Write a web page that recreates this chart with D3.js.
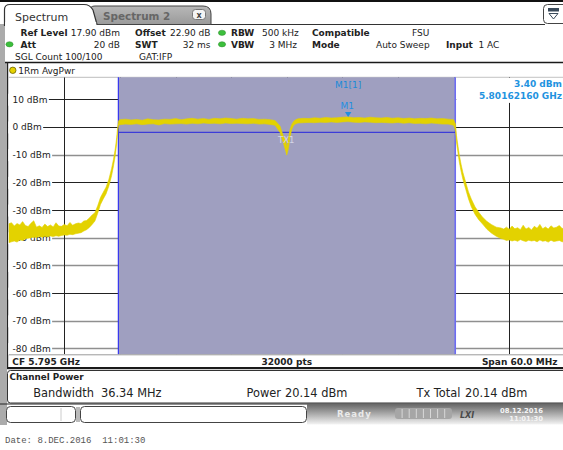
<!DOCTYPE html>
<html><head><meta charset="utf-8">
<script src="https://cdn.jsdelivr.net/npm/d3@7"></script>
<style>
html,body{margin:0;padding:0;background:#fff;}
svg{display:block;font-family:"DejaVu Sans",Verdana,sans-serif;}
</style></head><body>
<svg id="c" width="563" height="450"></svg>
<script>
// ---------------- data ----------------
const refLevel = 17.90;          // dBm, top of grid
const rangeDb = 100;             // dB shown
const centerGHz = 5.795;
const spanMHz = 60.0;
const sweepPoints = 32000;
const yTicks = [10, 0, -10, -20, -30, -40, -50, -60, -70, -80];
const yTickLabels = ["10 dBm", "0 dBm", "-10 dBm", "-20 dBm", "-30 dBm", "-40 dBm", "-50 dBm", "-60 dBm", "-70 dBm", "-80 dBm"];
const yGrayTicks = [-10, -40, -50, -70, -80];
const xGridMHz = [-24, -18, -12, -6, 0, 6, 12, 18, 24];
const channelBwMHz = 36.34;
const channelLineDbm = -2.0;
const markerFreqMHz = [6.6216];
const markerLevelDbm = [3.40];
const markerLabels = ["M1"];
const txLabel = "TX1";

// trace: frequency offset from centre (MHz), max and min of the noisy average trace (dBm)
const traceFreqMHz = [
  -30.0,-29.7,-29.4,-29.1,-28.8,-28.5,-28.2,-27.9,-27.6,-27.3,-27.0,-26.7,-26.4,-26.1,-25.8,-25.5,-25.2,-24.9,-24.6,-24.3,-24.0,-23.7,-23.4,-23.1,-22.8,-22.5,-22.2,-21.9,-21.6,-21.3,-21.0,
  -20.7,-20.4,-20.1,-19.8,-19.5,-19.2,-18.9,-18.7,-18.5,-18.35,-18.25,-18.15,
  -18.0,-17.4,-16.8,-16.2,-15.6,-15.0,-14.4,-13.8,-13.2,-12.6,-12.0,-11.4,-10.8,-10.2,-9.6,-9.0,-8.4,-7.8,-7.2,-6.6,-6.0,-5.4,-4.8,-4.2,-3.6,-3.0,-2.4,-1.8,
  -1.27,-0.73,-0.38,-0.12,-0.01,0.16,0.35,0.53,0.70,
  0.9,1.2,1.8,2.4,3.0,3.6,4.2,4.8,5.4,6.0,6.6,7.2,7.8,8.4,9.0,9.6,10.2,10.8,11.4,12.0,12.6,13.2,13.8,14.4,15.0,15.6,16.2,16.8,17.4,18.0,18.2,
  18.3,18.45,18.6,18.8,19.0,19.3,19.6,19.9,20.3,20.7,21.1,21.6,22.1,22.6,23.1,
  23.4,23.7,24.0,24.3,24.6,24.9,25.2,25.5,25.8,26.1,26.4,26.7,27.0,27.3,27.6,27.9,28.2,28.5,28.8,29.1,29.4,29.7,30.0
];
const traceMaxDbm = [
  -35.0,-34.6,-35.8,-34.9,-35.4,-34.2,-35.6,-36.0,-34.8,-33.9,-36.2,-35.7,-36.3,-35.1,-36.0,-35.4,-36.1,-34.6,-35.8,-35.9,-35.2,-35.7,-34.5,-35.5,-35.0,-34.7,-34.9,-34.0,-33.8,-32.9,-31.8,
  -31.0,-28.5,-25.5,-23.6,-21.8,-19.0,-15.0,-11.8,-7.8,-3.8,-0.2,2.2,
  2.6,2.8,2.5,2.7,2.4,2.9,2.6,2.5,2.8,2.7,3.0,2.6,2.9,3.1,2.8,3.0,2.7,3.1,2.9,3.2,3.0,2.8,3.1,2.9,3.0,2.7,2.8,2.6,
  2.3,0.3,-3.3,-4.8,-7.5,-4.5,-0.9,0.9,1.8,
  2.5,2.9,3.1,3.0,3.3,3.1,3.4,3.2,3.3,3.5,3.6,3.3,3.4,3.2,3.5,3.3,3.2,3.4,3.1,3.3,3.0,3.2,2.9,3.1,3.0,3.2,2.9,3.0,2.8,2.6,1.0,
  -3.0,-6.5,-10.0,-13.5,-16.5,-20.0,-23.5,-26.0,-28.8,-30.8,-32.5,-34.2,-35.3,-36.2,-36.5,
  -36.9,-36.2,-37.0,-35.8,-36.8,-36.4,-37.1,-35.5,-36.9,-36.3,-37.2,-35.9,-36.6,-35.2,-36.8,-36.1,-36.9,-35.7,-36.5,-36.2,-35.6,-36.7,-36.3
];
const traceMinDbm = [
  -41.8,-41.5,-41.2,-41.6,-40.8,-41.0,-40.4,-40.2,-40.0,-39.8,-39.9,-39.6,-39.8,-39.5,-39.7,-39.4,-39.6,-39.3,-39.5,-39.2,-39.0,-39.1,-38.8,-38.9,-38.6,-38.4,-38.2,-37.6,-37.1,-36.3,-35.2,
  -34.0,-31.2,-28.0,-26.0,-24.2,-21.4,-17.6,-14.2,-10.2,-6.0,-2.2,0.5,
  0.8,1.0,0.9,1.1,0.8,1.0,1.1,0.7,1.2,1.0,1.1,1.2,1.0,1.3,1.1,1.4,1.2,1.3,1.1,1.4,1.2,1.3,1.2,1.1,1.3,1.0,1.1,0.9,
  0.6,-2.0,-5.7,-8.7,-10.2,-8.0,-3.8,-0.9,0.3,
  1.0,1.4,1.5,1.6,1.5,1.7,1.6,1.8,1.6,1.8,1.9,1.7,1.6,1.8,1.7,1.5,1.6,1.5,1.4,1.6,1.3,1.5,1.2,1.3,1.1,1.4,1.2,1.0,1.0,0.6,-1.5,
  -5.5,-9.0,-12.5,-16.0,-19.0,-22.5,-26.0,-28.8,-31.5,-33.5,-35.0,-37.0,-38.4,-39.5,-40.3,
  -40.6,-41.0,-40.8,-41.2,-40.9,-41.3,-40.7,-41.1,-41.4,-40.9,-41.2,-41.0,-41.5,-40.8,-41.3,-41.1,-41.6,-40.9,-41.4,-41.2,-41.0,-41.5,-41.3
];

// header settings (label, value)
const headerRow1 = [["Ref Level", "17.90 dBm"], ["Offset", "22.90 dB"], ["RBW", "500 kHz"], ["Compatible", "FSU"]];
const headerRow2 = [["Att", "20 dB"], ["SWT", "32 ms"], ["VBW", "3 MHz"], ["Mode", "Auto Sweep"], ["Input", "1 AC"]];
const headerRow3 = ["SGL Count 100/100", "GAT:IFP"];
const traceTitle = "1Rm AvgPwr";
const markerReadout = ["M1[1]", "3.40 dBm", "5.80162160 GHz"];
const chPowerTitle = "Channel Power";
const chPowerItems = [["Bandwidth", "36.34 MHz"], ["Power", "20.14 dBm"], ["Tx Total", "20.14 dBm"]];
const dateText = "Date: 8.DEC.2016  11:01:30";
const statusDate = ["08.12.2016", "11:01:30"];

// ---------------- drawing ----------------
const svg = d3.select("#c");
const W = 563, H = 450;
const PL = 8.7, PR = 564.9, PT = 77.3, PB = 354.3;
const x = d3.scaleLinear().domain([-spanMHz / 2, spanMHz / 2]).range([PL, PR]);
const y = d3.scaleLinear().domain([refLevel - rangeDb, refLevel]).range([PB, PT]);

const defs = svg.append("defs");
const g1 = defs.append("linearGradient").attr("id", "tab2").attr("x1", 0).attr("y1", 0).attr("x2", 0).attr("y2", 1);
g1.append("stop").attr("offset", 0).attr("stop-color", "#b8b8b8");
g1.append("stop").attr("offset", 1).attr("stop-color", "#9a9a9a");
const g2 = defs.append("linearGradient").attr("id", "status").attr("x1", 0).attr("y1", 0).attr("x2", 0).attr("y2", 1);
g2.append("stop").attr("offset", 0).attr("stop-color", "#6a6a6a");
g2.append("stop").attr("offset", 0.45).attr("stop-color", "#a8a8a8");
g2.append("stop").attr("offset", 1).attr("stop-color", "#f4f4f4");
defs.append("clipPath").attr("id", "plotclip").append("rect")
  .attr("x", PL).attr("y", PT).attr("width", PR - PL).attr("height", PB - PT);

svg.append("rect").attr("width", W).attr("height", H).attr("fill", "#fff");

// left gray strip
svg.append("rect").attr("x", 0).attr("y", 24).attr("width", 5).attr("height", 401).attr("fill", "#ababab");
svg.append("rect").attr("x", 0).attr("y", 62).attr("width", 7).attr("height", 363).attr("fill", "#ababab");

// top line
svg.append("rect").attr("x", 0).attr("y", 0).attr("width", W).attr("height", 2).attr("fill", "#111");

// tabs
svg.append("line").attr("x1", 95).attr("x2", 545).attr("y1", 24.5).attr("y2", 24.5).attr("stroke", "#333").attr("stroke-width", 1.2);
svg.append("path").attr("d", "M90,24.5 L90,10 Q90,6 95,6 L203,6 Q211,6 211,14 L211,24.5 Z")
  .attr("fill", "url(#tab2)").attr("stroke", "#444").attr("stroke-width", 1);
svg.append("path").attr("d", "M4.5,26 L4.5,9.5 Q4.5,4.5 10,4.5 L84,4.5 Q90,4.5 93,10 L97,24.5")
  .attr("fill", "#fff").attr("stroke", "#333").attr("stroke-width", 1.2);
svg.append("rect").attr("x", 5.2).attr("y", 22).attr("width", 91).attr("height", 4).attr("fill", "#fff");
svg.append("text").attr("x", 15).attr("y", 20.5).attr("font-size", 11).attr("fill", "#333").text("Spectrum");
svg.append("text").attr("x", 103).attr("y", 20).attr("font-size", 10.4).attr("font-weight", "bold").attr("fill", "#666").text("Spectrum 2");
svg.append("rect").attr("x", 192.5).attr("y", 9.5).attr("width", 13).attr("height", 10).attr("rx", 3)
  .attr("fill", "#f4f4f4").attr("stroke", "#777");
svg.append("text").attr("x", 199).attr("y", 17.5).attr("text-anchor", "middle").attr("font-size", 8).attr("font-weight", "bold").attr("fill", "#444").text("x");
// top-right icon
svg.append("rect").attr("x", 543.5).attr("y", 4.5).attr("width", 24).attr("height", 19).attr("rx", 4)
  .attr("fill", "#fff").attr("stroke", "#444");
svg.append("rect").attr("x", 548).attr("y", 8).attr("width", 11).attr("height", 3.5).attr("fill", "#3a4a5a");
svg.append("path").attr("d", "M549,13.5 L558,13.5 L553.5,19 Z").attr("fill", "none").attr("stroke", "#3a4a5a").attr("stroke-width", 1);

// header text
const hdr = svg.append("g").attr("fill", "#222");
function hdrItem(lx, label, vx, anchor, value, base) {
  hdr.append("text").attr("x", lx).attr("y", base).attr("font-size", 9).attr("font-weight", "bold").text(label);
  hdr.append("text").attr("x", vx).attr("y", base).attr("font-size", 9).attr("text-anchor", anchor).text(value);
}
const r1 = 36.3, r2 = 47.8;
hdrItem(20.5, headerRow1[0][0], 120, "end", headerRow1[0][1], r1);
hdrItem(135, headerRow1[1][0], 210.5, "end", headerRow1[1][1], r1);
hdrItem(231, headerRow1[2][0], 262, "start", headerRow1[2][1], r1);
hdrItem(312, headerRow1[3][0], 412, "start", headerRow1[3][1], r1);
hdrItem(20.5, headerRow2[0][0], 120, "end", headerRow2[0][1], r2);
hdrItem(135, headerRow2[1][0], 210.5, "end", headerRow2[1][1], r2);
hdrItem(231, headerRow2[2][0], 297, "end", headerRow2[2][1], r2);
hdrItem(312, headerRow2[3][0], 376, "start", headerRow2[3][1], r2);
hdrItem(446, headerRow2[4][0], 478.5, "start", headerRow2[4][1], r2);
hdr.append("text").attr("x", 15).attr("y", 59.5).attr("font-size", 9).text(headerRow3[0]);
hdr.append("text").attr("x", 139).attr("y", 59.5).attr("font-size", 9).text(headerRow3[1]);
// green status dots
[[222, 32.8], [222, 44.3], [9.5, 44.3]].forEach(p => {
  svg.append("ellipse").attr("cx", p[0]).attr("cy", p[1]).attr("rx", 3.6).attr("ry", 2.6).attr("fill", "#3cbf3c").attr("stroke", "#2a8a2a").attr("stroke-width", 0.5);
});

// header / diagram separator
svg.append("line").attr("x1", 5).attr("x2", W).attr("y1", 62.5).attr("y2", 62.5).attr("stroke", "#1a1a1a").attr("stroke-width", 1.5);
// frame left
svg.append("line").attr("x1", 7.6).attr("x2", 7.6).attr("y1", 62).attr("y2", 369).attr("stroke", "#222").attr("stroke-width", 1.2);

// trace title row
svg.append("circle").attr("cx", 12.8).attr("cy", 70.3).attr("r", 3.2).attr("fill", "#e6d200").attr("stroke", "#6b6200").attr("stroke-width", 0.8);
svg.append("text").attr("x", 18.3).attr("y", 73.6).attr("font-size", 9).attr("fill", "#222").text(traceTitle);

// plot top border
svg.append("line").attr("x1", PL).attr("x2", W).attr("y1", PT).attr("y2", PT).attr("stroke", "#bdbdbd").attr("stroke-width", 1);

// grid
const grid = svg.append("g").attr("clip-path", "url(#plotclip)");
grid.selectAll("line.h").data(yTicks).join("line").attr("class", "h")
  .attr("x1", PL).attr("x2", PR)
  .attr("y1", d => Math.round(y(d)) + 0.5).attr("y2", d => Math.round(y(d)) + 0.5)
  .attr("stroke", d => yGrayTicks.includes(d) ? "#8f8f8f" : "#222").attr("stroke-width", d => yGrayTicks.includes(d) ? 1.3 : 1);
grid.selectAll("line.v").data(xGridMHz).join("line").attr("class", "v")
  .attr("x1", d => Math.round(x(d)) + 0.5).attr("x2", d => Math.round(x(d)) + 0.5)
  .attr("y1", PT).attr("y2", PB).attr("stroke", "#222").attr("stroke-width", 1);

// y labels via axis
const yAxis = d3.axisRight(y).tickValues(yTicks).tickFormat((d, i) => yTickLabels[i]).tickSize(0).tickPadding(0);
const ya = svg.append("g").attr("transform", `translate(12.5,0)`).call(yAxis);
ya.select(".domain").remove();
ya.selectAll("text").attr("font-size", 9).attr("fill", "#222").attr("font-family", "DejaVu Sans, Verdana, sans-serif").attr("dy", "0.34em");
ya.selectAll(".tick").each(function () {
  const t = d3.select(this).select("text");
  const bb = t.node().getBBox();
  d3.select(this).insert("rect", "text").attr("x", -4.2).attr("y", bb.y - 1).attr("width", bb.width + 5.6).attr("height", bb.height + 2).attr("fill", "#fff");
});

// channel (shaded) region
const chL = x(-channelBwMHz / 2), chR = x(channelBwMHz / 2);
svg.append("rect").attr("x", chL).attr("y", PT).attr("width", chR - chL).attr("height", PB - PT).attr("fill", "#9f9fc0");
svg.append("line").attr("x1", chL).attr("x2", chL).attr("y1", PT).attr("y2", PB).attr("stroke", "#3434f0").attr("stroke-width", 1.2);
svg.append("line").attr("x1", chR).attr("x2", chR).attr("y1", PT).attr("y2", PB).attr("stroke", "#6c6cf2").attr("stroke-width", 1.6);
svg.append("line").attr("x1", chL).attr("x2", chR).attr("y1", y(channelLineDbm)).attr("y2", y(channelLineDbm)).attr("stroke", "#3c3cd8").attr("stroke-width", 1.2);

// marker readout box
svg.append("rect").attr("x", chR + 1).attr("y", PT + 0.6).attr("width", W - chR).attr("height", 25).attr("fill", "#fff");
svg.append("text").attr("x", x(markerFreqMHz[0])).attr("y", 87.5).attr("text-anchor", "middle").attr("font-size", 9).attr("fill", "#1b8ad8").text(markerReadout[0]);
svg.append("text").attr("x", 562).attr("y", 87.3).attr("text-anchor", "end").attr("font-size", 9).attr("font-weight", "bold").attr("fill", "#1f93e0").text(markerReadout[1]);
svg.append("text").attr("x", 562).attr("y", 98.6).attr("text-anchor", "end").attr("font-size", 9).attr("font-weight", "bold").attr("fill", "#1f93e0").text(markerReadout[2]);

// trace
const traceData = traceFreqMHz.map((f, i) => ({f, hi: traceMaxDbm[i], lo: traceMinDbm[i]}));
const tg = svg.append("g").attr("clip-path", "url(#plotclip)");
tg.append("path").datum(traceData)
  .attr("d", d3.area().x(d => x(d.f)).y0(d => y(d.lo)).y1(d => y(d.hi)))
  .attr("fill", "#e3d200").attr("stroke", "#e3d200").attr("stroke-width", 0.6).attr("stroke-linejoin", "round");

// TX1 label
svg.append("text").attr("x", x(0) - 0.5).attr("y", 142.5).attr("text-anchor", "middle").attr("font-size", 8.5).attr("fill", "#d6d6e6").text(txLabel);

// marker
markerFreqMHz.forEach((f, i) => {
  const mx = x(f), my = y(markerLevelDbm[i]);
  svg.append("path").attr("d", `M${mx - 3.2},${my - 5.5} L${mx + 3.2},${my - 5.5} L${mx},${my - 0.5} Z`).attr("fill", "#1f8fe0");
  svg.append("text").attr("x", mx - 1).attr("y", my - 8).attr("text-anchor", "middle").attr("font-size", 9).attr("fill", "#1f8fe0").text(markerLabels[i]);
});

// bottom of diagram
svg.append("line").attr("x1", PL).attr("x2", W).attr("y1", PB + 0.5).attr("y2", PB + 0.5).attr("stroke", "#9a9a9a");
svg.append("text").attr("x", 12.3).attr("y", 365.2).attr("font-size", 9).attr("font-weight", "bold").attr("fill", "#222").text(`CF ${centerGHz} GHz`);
svg.append("text").attr("x", x(0)).attr("y", 365.2).attr("text-anchor", "middle").attr("font-size", 9).attr("font-weight", "bold").attr("fill", "#222").text(`${sweepPoints} pts`);
svg.append("text").attr("x", 557.5).attr("y", 365.2).attr("text-anchor", "end").attr("font-size", 9).attr("font-weight", "bold").attr("fill", "#222").text(`Span ${spanMHz.toFixed(1)} MHz`);
svg.append("rect").attr("x", 7).attr("y", 367).attr("width", W).attr("height", 2.2).attr("fill", "#1a1a1a");

// channel power panel
svg.append("rect").attr("x", 7.5).attr("y", 370.5).attr("width", 562).attr("height", 32.5).attr("rx", 3)
  .attr("fill", "#fff").attr("stroke", "#333").attr("stroke-width", 1);
svg.append("text").attr("x", 9.5).attr("y", 379.5).attr("font-size", 8.8).attr("font-weight", "bold").attr("fill", "#222").text(chPowerTitle);
const cpPos = [[33.3, 101], [246.5, 285], [416.5, 465]];
chPowerItems.forEach((it, i) => {
  svg.append("text").attr("x", cpPos[i][0]).attr("y", 397.3).attr("font-size", 11.4).attr("fill", "#222").text(it[0]);
  svg.append("text").attr("x", cpPos[i][1]).attr("y", 397.3).attr("font-size", 11.4).attr("fill", "#222").text(it[1]);
});

// soft-key boxes
svg.append("rect").attr("x", 6.5).attr("y", 406.5).attr("width", 69).attr("height", 16).attr("rx", 4).attr("fill", "#fff").attr("stroke", "#444");
svg.append("line").attr("x1", 61).attr("x2", 61).attr("y1", 408).attr("y2", 421).attr("stroke", "#ccc");
svg.append("rect").attr("x", 76).attr("y", 407).attr("width", 4).attr("height", 15).attr("fill", "#bbb");
svg.append("rect").attr("x", 80.5).attr("y", 406.5).attr("width", 226).attr("height", 16).attr("rx", 4).attr("fill", "#fff").attr("stroke", "#444");

// status bar
svg.append("rect").attr("x", 307).attr("y", 404.5).attr("width", 256).attr("height", 20).attr("fill", "url(#status)");
svg.append("line").attr("x1", 0).attr("x2", W).attr("y1", 404).attr("y2", 404).attr("stroke", "#222").attr("stroke-width", 1);
svg.append("text").attr("x", 337).attr("y", 416.5).attr("font-size", 8.5).attr("font-weight", "bold").attr("letter-spacing", 1).attr("fill", "#eaeaea").text("Ready");
svg.append("rect").attr("x", 395).attr("y", 408).attr("width", 57).attr("height", 11).attr("rx", 3).attr("fill", "#a6a6a6");
d3.range(1, 8).forEach(k => {
  svg.append("line").attr("x1", 395 + k * 7.1).attr("x2", 395 + k * 7.1).attr("y1", 409).attr("y2", 418).attr("stroke", "#d8d8d8").attr("stroke-width", 1);
});
svg.append("text").attr("x", 460).attr("y", 417.5).attr("font-size", 8).attr("font-weight", "bold").attr("font-style", "italic").attr("fill", "#4a4a4a").text("LXI");
svg.append("text").attr("x", 543).attr("y", 412.5).attr("text-anchor", "end").attr("font-size", 6.8).attr("font-weight", "bold").attr("fill", "#f4f4f4").text(statusDate[0]);
svg.append("text").attr("x", 543).attr("y", 420.5).attr("text-anchor", "end").attr("font-size", 6.8).attr("font-weight", "bold").attr("fill", "#f4f4f4").text(statusDate[1]);

// footer date
svg.append("text").attr("x", 5).attr("y", 443).attr("font-size", 9).attr("font-family", "Liberation Mono, DejaVu Sans Mono, monospace").attr("fill", "#555").attr("xml:space", "preserve").style("white-space", "pre").text(dateText);
</script>
</body></html>
